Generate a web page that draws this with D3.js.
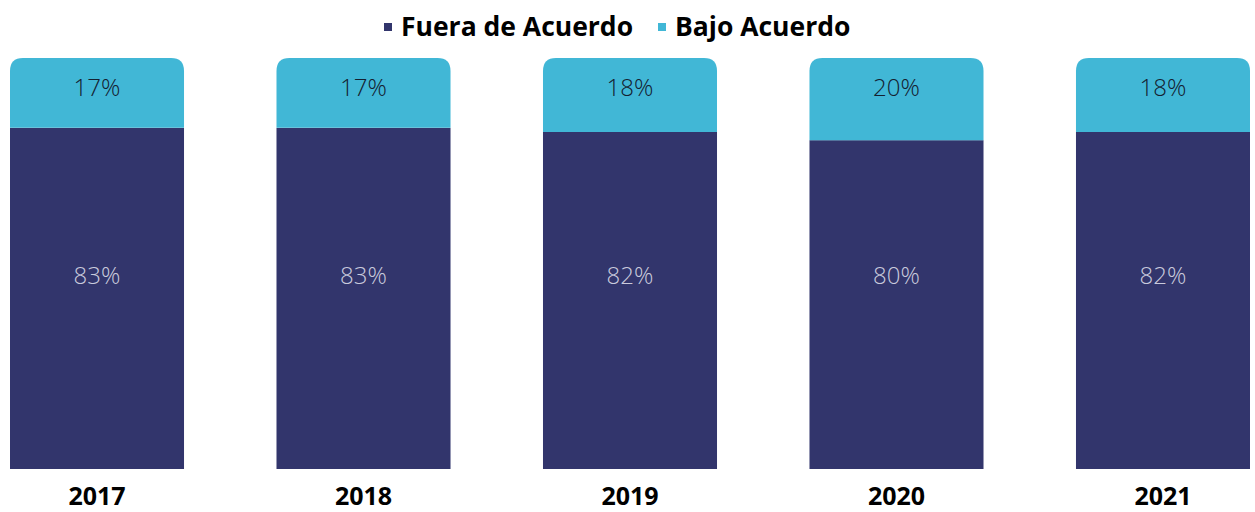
<!DOCTYPE html>
<html>
<head>
<meta charset="utf-8">
<script src="https://cdn.jsdelivr.net/npm/d3@7"></script>
<style>
  body { margin: 0; background: #fff; }
  svg { display: block; font-family: "Open Sans", sans-serif; }
</style>
</head>
<body>
<svg id="chart" width="1255" height="512"></svg>
<script>
const years = ['2017', '2018', '2019', '2020', '2021'];
const fueraDeAcuerdo = [83, 83, 82, 80, 82];
const bajoAcuerdo = [17, 17, 18, 20, 18];
const seriesNames = ['Fuera de Acuerdo', 'Bajo Acuerdo'];

const darkColor = '#32356c';
const lightColor = '#41b7d6';

const svg = d3.select('#chart');

const x = d3.scaleBand()
    .domain(years)
    .range([10, 1250])
    .paddingInner(0.347)
    .paddingOuter(0);

const y = d3.scaleLinear()
    .domain([0, 100])
    .range([469, 58]);

const rows = years.map((yr, i) => ({
    year: yr,
    fuera: fueraDeAcuerdo[i],
    bajo: bajoAcuerdo[i]
}));

// rounded-top path for the upper segment
const roundTop = function (x0, y0, w, h, r) {
    return `M${x0},${y0 + h} L${x0},${y0 + r} Q${x0},${y0} ${x0 + r},${y0} ` +
           `L${x0 + w - r},${y0} Q${x0 + w},${y0} ${x0 + w},${y0 + r} L${x0 + w},${y0 + h} Z`;
};

const bars = svg.append('g').attr('class', 'bars');

// bottom segment
bars.selectAll('rect.fuera')
    .data(rows)
    .join('rect')
    .attr('class', 'fuera')
    .attr('x', d => x(d.year))
    .attr('y', d => y(d.fuera))
    .attr('width', x.bandwidth())
    .attr('height', d => y(0) - y(d.fuera))
    .attr('fill', darkColor);

// top segment
bars.selectAll('path.bajo')
    .data(rows)
    .join('path')
    .attr('class', 'bajo')
    .attr('d', d => roundTop(x(d.year), y(d.fuera + d.bajo), x.bandwidth(), y(d.fuera) - y(d.fuera + d.bajo), 13))
    .attr('fill', lightColor);

// value labels
bars.selectAll('text.bajo-lbl')
    .data(rows)
    .join('text')
    .attr('class', 'bajo-lbl')
    .attr('x', d => x(d.year) + x.bandwidth() / 2)
    .attr('y', d => y(d.fuera + d.bajo) + 30)
    .attr('dy', '0.35em')
    .attr('text-anchor', 'middle')
    .attr('font-size', 24)
    .attr('font-weight', 300)
    .attr('fill', '#142030')
    .text(d => d.bajo + '%');

bars.selectAll('text.fuera-lbl')
    .data(rows)
    .join('text')
    .attr('class', 'fuera-lbl')
    .attr('x', d => x(d.year) + x.bandwidth() / 2)
    .attr('y', y(47))
    .attr('dy', '0.35em')
    .attr('text-anchor', 'middle')
    .attr('font-size', 24)
    .attr('font-weight', 300)
    .attr('fill', '#c9cadc')
    .text(d => d.fuera + '%');

// year axis
const xAxis = svg.append('g')
    .attr('transform', `translate(0,${y(0)})`)
    .call(d3.axisBottom(x).tickSize(0).tickPadding(18));
xAxis.select('.domain').remove();
xAxis.selectAll('text')
    .attr('font-family', '"Open Sans", sans-serif')
    .attr('font-size', 25)
    .attr('font-weight', 700)
    .attr('fill', '#000');

// legend
const legend = svg.append('g').attr('class', 'legend');
const legendItems = [
    { name: seriesNames[0], color: darkColor, x: 384 },
    { name: seriesNames[1], color: lightColor, x: 658 }
];
legendItems.forEach(it => {
    legend.append('rect')
        .attr('x', it.x)
        .attr('y', 23)
        .attr('width', 8)
        .attr('height', 8)
        .attr('fill', it.color);
    legend.append('text')
        .attr('x', it.x + 17)
        .attr('y', 27)
        .attr('dy', '0.35em')
        .attr('font-size', 26.5)
        .attr('font-weight', 700)
        .attr('fill', '#000')
        .text(it.name);
});
</script>
</body>
</html>
